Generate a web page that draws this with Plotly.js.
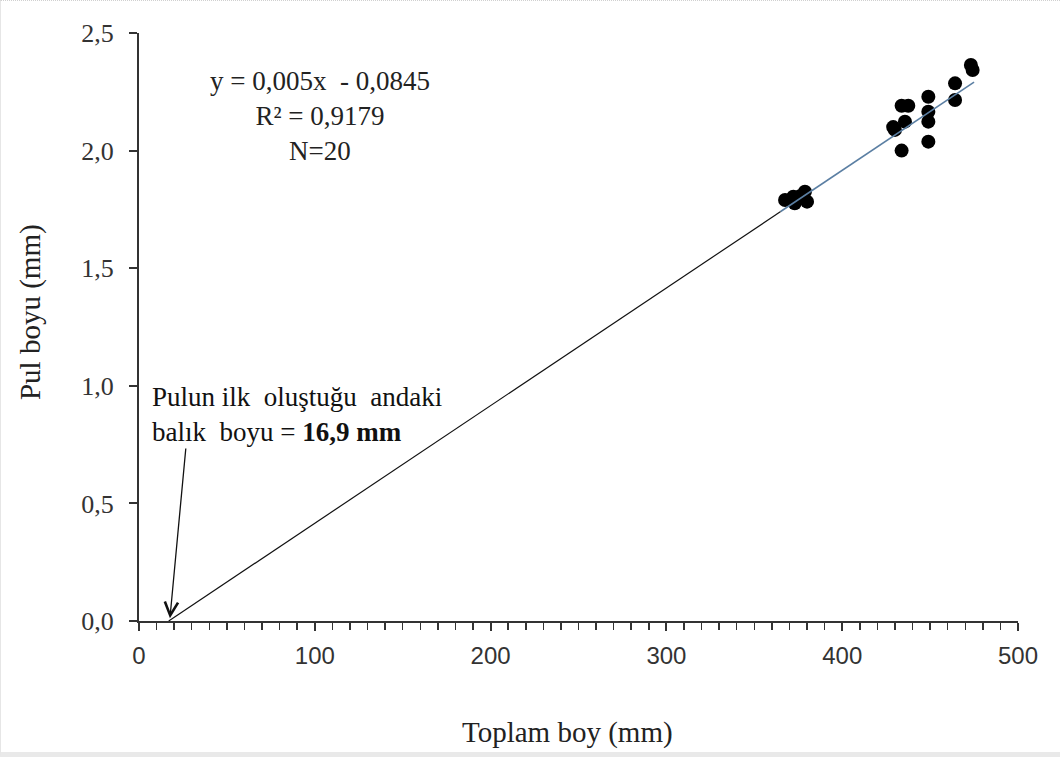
<!DOCTYPE html>
<html>
<head>
<meta charset="utf-8">
<script src="https://cdn.plot.ly/plotly-3.0.1.min.js"></script>
<style>
  html, body { margin: 0; padding: 0; background: #ffffff; }
  #wrap { position: relative; width: 1061px; height: 758px; overflow: hidden; }
  #chart { width: 1061px; height: 758px; }
  #frame { position: absolute; left: 0; top: 0; width: 1059px; height: 751px;
           border-top: 1px dotted #d0d0d0; border-left: 1px solid #e6e6e6;
           border-bottom: 5px solid #e9e9e9; pointer-events: none; }
</style>
</head>
<body>
<div id="wrap"><div id="chart"></div><div id="frame"></div></div>
<script>
// Observed points: total length (mm) vs scale length (mm)
const toplamBoy = [367.5, 372.2, 373.0, 376.0, 378.8, 380.0,
                   429.0, 430.0, 433.8, 433.8, 435.7, 437.6,
                   449.0, 449.0, 449.0, 449.0,
                   464.2, 464.2, 473.2, 474.2];
const pulBoyu   = [1.790, 1.804, 1.776, 1.806, 1.825, 1.783,
                   2.100, 2.088, 2.000, 2.191, 2.123, 2.191,
                   2.229, 2.165, 2.123, 2.038,
                   2.286, 2.215, 2.364, 2.343];

// Fitted trendline over the data range (y = 0,005x - 0,0845)
const trendX = [365, 475];
const trendY = [1.741, 2.291];

// Back-extrapolated line to the x-intercept (16,9 mm)
const extX = [16.9, 365];
const extY = [0.0, 1.741];

const xTicks = [0, 100, 200, 300, 400, 500];
const yTicks = [0.0, 0.5, 1.0, 1.5, 2.0, 2.5];

const serif = "Liberation Serif, Times New Roman, serif";
const sans = "Liberation Sans, Arial, sans-serif";

const traces = [
  { x: extX, y: extY, type: 'scatter', mode: 'lines',
    line: { color: '#111111', width: 1.2 }, hoverinfo: 'skip' },
  { x: toplamBoy, y: pulBoyu, type: 'scatter', mode: 'markers',
    marker: { color: '#000000', size: 14, line: { width: 0 } } },
  { x: trendX, y: trendY, type: 'scatter', mode: 'lines',
    line: { color: '#5b7fa3', width: 1.6 }, hoverinfo: 'skip' }
];

const layout = {
  width: 1061, height: 758,
  separators: ',.',
  showlegend: false,
  paper_bgcolor: '#ffffff', plot_bgcolor: '#ffffff',
  margin: { l: 139, r: 43, t: 33, b: 137, pad: 0 },
  font: { family: serif, color: '#222222', size: 26 },
  xaxis: {
    range: [0, 500], tickvals: xTicks, ticktext: xTicks.map(String),
    showgrid: false, zeroline: false, showline: true, linecolor: '#333333', linewidth: 2,
    ticks: 'outside', ticklen: 8, tickwidth: 2, tickcolor: '#333333',
    minor: { dtick: 10, ticks: 'outside', ticklen: 7, tickwidth: 1.5, tickcolor: '#333333', showgrid: false },
    tickfont: { family: sans, size: 24, color: '#333333' },
    ticklabelstandoff: 4,
    fixedrange: true
  },
  yaxis: {
    range: [0, 2.5], tickvals: yTicks, tickformat: '.1f',
    showgrid: false, zeroline: false, showline: true, linecolor: '#333333', linewidth: 2,
    ticks: 'outside', ticklen: 8, tickwidth: 2, tickcolor: '#333333',
    tickfont: { family: serif, size: 26, color: '#333333' },
    ticklabelstandoff: 10,
    fixedrange: true
  },
  annotations: [
    { x: 0.488, y: -0.1888, xref: 'paper', yref: 'paper', xanchor: 'center', yanchor: 'middle',
      showarrow: false, text: 'Toplam boy (mm)',
      font: { family: serif, size: 29, color: '#222222' } },
    { x: -0.124, y: 0.5255, xref: 'paper', yref: 'paper', xanchor: 'center', yanchor: 'middle',
      showarrow: false, textangle: -90, text: 'Pul boyu (mm)',
      font: { family: serif, size: 29, color: '#222222' } },
    { x: 103, y: 2.147, xref: 'x', yref: 'y', showarrow: false, align: 'center',
      text: 'y = 0,005x  - 0,0845<br>R² = 0,9179<br>N=20',
      font: { family: serif, size: 27, color: '#222222' } },
    { x: 6.3, y: 0.88, xref: 'x', yref: 'y', xanchor: 'left', yanchor: 'middle',
      showarrow: false, align: 'left',
      text: 'Pulun ilk  oluştuğu  andaki<br>balık  boyu = <b>16,9 mm</b>',
      font: { family: serif, size: 27, color: '#111111' } },
    { x: 17.6, y: 0.012, ax: 26.7, ay: 0.74, xref: 'x', yref: 'y', axref: 'x', ayref: 'y',
      text: '', showarrow: true, arrowhead: 5, arrowsize: 2, arrowwidth: 1.3, arrowcolor: '#111111' }
  ]
};

Plotly.newPlot('chart', traces, layout, { displayModeBar: false, staticPlot: true });
</script>
</body>
</html>
